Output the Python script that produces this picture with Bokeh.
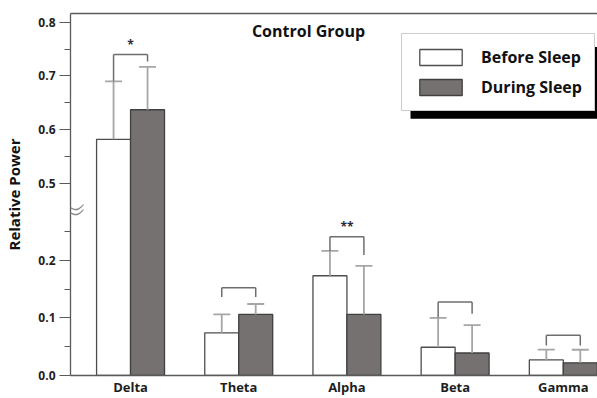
import numpy as np
from bokeh.plotting import figure
from bokeh.models import (Range1d, FixedTicker, Label, Legend, LegendItem, LinearAxis,
                          BoxAnnotation, ColumnDataSource, PolyAnnotation)
from bokeh.core.properties import value
from bokeh.embed import file_html
from bokeh.resources import INLINE

# ---- data ----
bands = ["Delta", "Theta", "Alpha", "Beta", "Gamma"]
before = [0.582, 0.074, 0.173, 0.049, 0.027]
during = [0.637, 0.106, 0.106, 0.039, 0.022]
before_sd = [0.108, 0.032, 0.043, 0.051, 0.018]
during_sd = [0.080, 0.018, 0.084, 0.0485, 0.0227]
bracket_y = [0.740, 0.152, 0.2405, 0.1275, 0.0696]
bracket_left_end = [0.690, 0.136, 0.216, 0.101, 0.052]
bracket_right_end = [0.727, 0.136, 0.209, 0.107, 0.052]
significance = ["*", "", "**", "", ""]
y_major = [0.0, 0.1, 0.2, 0.5, 0.6, 0.7, 0.8]
y_minor = [0.05, 0.15, 0.25, 0.55, 0.65, 0.75]
series_names = ["Before Sleep", "During Sleep"]

FONT = "Open Sans"

# broken axis transform (lower 0-0.3, upper 0.5-0.8), in pixel units above the baseline
def ty(v):
    v = np.asarray(v, dtype=float)
    return np.where(v <= 0.35, v * 575.0, 191.7 + (v - 0.5) * 535.0)

W, H = 597, 398
FL, FR, FT = 70, 597, 13     # frame edges (page px)
FB = 374                     # expected frame bottom (page px) = value 0
X0, X1 = -0.555, 4.316
PXU = (FR - FL) / (X1 - X0)

def xpx(px):
    return X0 + (px - FL) / PXU

def ypx(px):
    return FB - px

p = figure(width=W, height=H, output_backend="svg", toolbar_location=None,
           x_range=Range1d(X0, X1), y_range=Range1d(0, FB - FT),
           min_border_left=FL, min_border_right=0, min_border_top=FT, min_border_bottom=15)
p.outline_line_color = None
p.grid.grid_line_color = None
p.background_fill_color = "white"

xs = np.arange(len(bands))
off = 0.157
bw = 0.314
xb = xs - off
xd = xs + off

rb = p.vbar(x=xb, top=ty(before), bottom=0, width=bw, fill_color="white",
            line_color="#4d4d4d", line_width=1.3)
rd = p.vbar(x=xd, top=ty(during), bottom=0, width=bw, fill_color="#767171",
            line_color="#404040", line_width=1.3)

# error bars (upper only)
eb_top = np.array(before) + np.array(before_sd)
ed_top = np.array(during) + np.array(during_sd)
cap = bw / 4
for xx, lo, hi in ((xb, before, eb_top), (xd, during, ed_top)):
    p.segment(x0=xx, y0=ty(lo), x1=xx, y1=ty(hi), line_color="#a6a6a6", line_width=1.8)
    p.segment(x0=xx - cap, y0=ty(hi), x1=xx + cap, y1=ty(hi), line_color="#a6a6a6", line_width=1.8)

# significance brackets
p.segment(x0=xb, y0=ty(bracket_y), x1=xd, y1=ty(bracket_y), line_color="#6e6e6e", line_width=1.5)
p.segment(x0=xb, y0=ty(bracket_y), x1=xb, y1=ty(bracket_left_end), line_color="#6e6e6e", line_width=1.5)
p.segment(x0=xd, y0=ty(bracket_y), x1=xd, y1=ty(bracket_right_end), line_color="#6e6e6e", line_width=1.5)
src_sig = ColumnDataSource(dict(x=xs, y=ty(bracket_y) + 2, t=significance))
p.text(x="x", y="y", text="t", source=src_sig, text_align="center", text_baseline="bottom",
       text_font=value(FONT), text_font_size="12px", text_font_style="bold", text_color="#2b2b3b")

# bottom (category) axis
xa = p.below[0]
xa.ticker = FixedTicker(ticks=list(xs))
xa.major_label_overrides = {int(i): b for i, b in enumerate(bands)}
xa.major_tick_out = 0
xa.major_tick_in = 0
xa.minor_tick_out = 0
xa.minor_tick_in = 0
xa.axis_line_color = "#5a5a5a"
xa.axis_line_width = 1.3
xa.major_label_standoff = 2
xa.major_label_text_font = FONT
xa.major_label_text_font_style = "bold"
xa.major_label_text_font_size = "13px"
xa.major_label_text_color = "#1e1e1e"

# top border as an empty axis
top_ax = LinearAxis(ticker=FixedTicker(ticks=[]), major_tick_out=0, major_tick_in=0,
                    minor_tick_out=0, minor_tick_in=0, major_label_text_font_size="0px",
                    axis_line_color="#5a5a5a", axis_line_width=1.3)
p.add_layout(top_ax, "above")

# left axis with broken scale
ya = p.left[0]
maj = [round(float(t), 1) for t in ty(y_major)]
mino = [round(float(t), 1) for t in ty(y_minor)]
ya.ticker = FixedTicker(ticks=maj, minor_ticks=mino)
ya.major_label_overrides = {m: f"{v:.1f}" for m, v in zip(maj, y_major)}
ya.major_tick_out = 11
ya.major_tick_in = 0
ya.minor_tick_out = 6
ya.minor_tick_in = 0
ya.axis_line_color = "#5a5a5a"
ya.axis_line_width = 1.3
ya.major_tick_line_color = "#5a5a5a"
ya.minor_tick_line_color = "#5a5a5a"
ya.major_label_standoff = 4
ya.major_label_text_font = FONT
ya.major_label_text_font_style = "bold"
ya.major_label_text_font_size = "12px"
ya.major_label_text_color = "#1e1e1e"
ya.axis_label = "Relative Power"
ya.axis_label_text_font = FONT
ya.axis_label_text_font_style = "bold"
ya.axis_label_text_font_size = "15px"
ya.axis_label_text_color = "#111111"
ya.axis_label_standoff = 11

# axis break mark: wavy strokes next to the axis line
u = np.linspace(0, 1, 40)
for yc in (206.0, 211.0):
    wx = 57 + 26 * u
    wy_top = yc - 6 * (u - 0.5) - 3.2 * np.sin(2 * np.pi * u)
    bx = np.concatenate([wx, wx[::-1]])
    by = np.concatenate([wy_top, wy_top[::-1] + 1.4])
    p.add_layout(PolyAnnotation(xs=list(xpx(bx)), ys=list(ypx(by)),
                                fill_color="#8a8a8a", fill_alpha=1,
                                line_color="#8a8a8a", line_width=0.3))

# title
p.add_layout(Label(x=xpx(308), y=ypx(30), text="Control Group", text_align="center",
                   text_baseline="middle", text_font=FONT, text_font_style="bold",
                   text_font_size="16px", text_color="#111111"))

# legend + shadow
LW, LH = 190, 72
LLX, LT = 401, 38
p.add_layout(BoxAnnotation(left=xpx(LLX + 9), right=xpx(597), top=ypx(LT + 8.5), bottom=ypx(LT + LH + 8),
                           fill_color="black", fill_alpha=1, line_color=None))

legend = Legend(items=[LegendItem(label=series_names[0], renderers=[rb]),
                       LegendItem(label=series_names[1], renderers=[rd])],
                location=(LLX - FL, FB - (LT + LH)), glyph_width=53, glyph_height=20,
                label_standoff=14, padding=12, spacing=8, label_height=20,
                label_text_font=FONT, label_text_font_style="bold",
                label_text_font_size="16px", label_text_color="#111111",
                border_line_color="#999999", border_line_width=1.3,
                background_fill_color="white", background_fill_alpha=1)
p.add_layout(legend)

open("out.html", "w").write(file_html(p, INLINE))
